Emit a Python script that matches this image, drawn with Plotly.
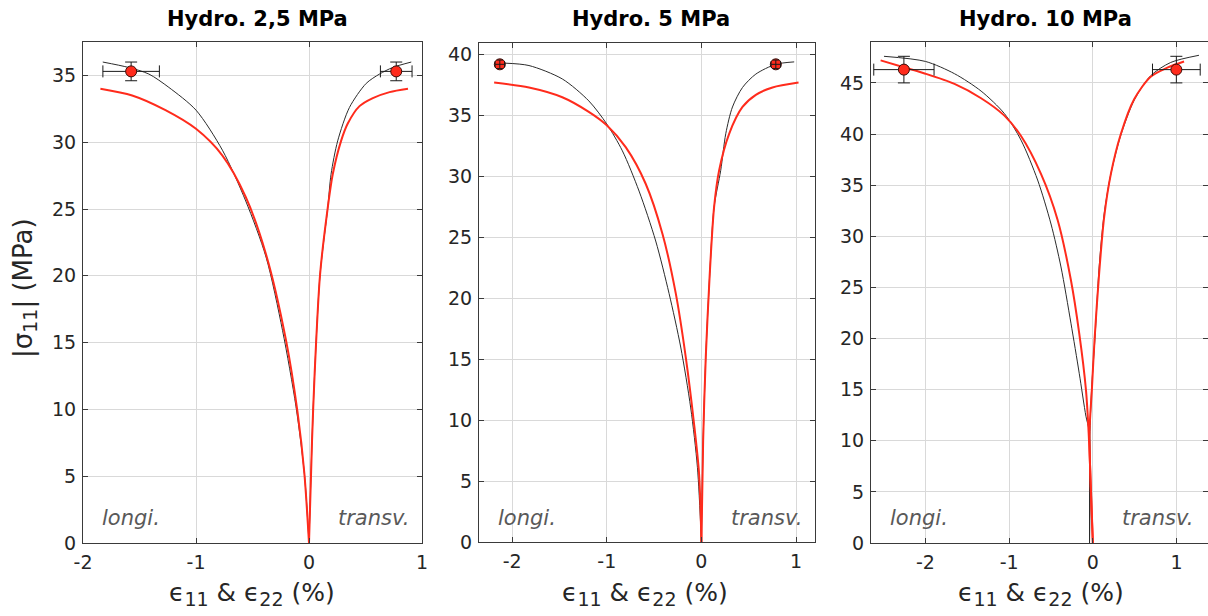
import plotly.graph_objects as go

W, H = 1208, 616

# ---------------- data ----------------
titles = ["Hydro. 2,5 MPa", "Hydro. 5 MPa", "Hydro. 10 MPa"]
x_tick_vals = [-2, -1, 0, 1]
x_tick_text = ["-2", "-1", "0", "1"]

# Panel 1 : Hydro 2,5 MPa   (None separates longitudinal and transverse branches)
p1_black_x = [-1.825, -1.6, -1.417, -1.24, -1.0, -0.766, -0.56, -0.38, -0.234, -0.115, -0.041, 0.0, None,
              0.0, 0.027, 0.05, 0.098, 0.166, 0.195, 0.254, 0.358, 0.506, 0.624, 0.743, 0.905]
p1_black_y = [36.0, 35.6, 35.1, 34.1, 32.4, 29.4, 25.6, 21.4, 15.9, 10.2, 5.2, 0.0, None,
              0.0, 7.7, 12.7, 20.1, 25.1, 27.6, 30.1, 32.6, 34.4, 35.1, 35.6, 36.0]
p1_red_x = [-1.846, -1.565, -1.27, -1.0, -0.766, -0.56, -0.38, -0.204, -0.1, -0.041, 0.0, None,
            0.0, 0.027, 0.05, 0.098, 0.166, 0.21, 0.284, 0.343, 0.447, 0.565, 0.713, 0.876]
p1_red_y = [34.0, 33.5, 32.4, 31.0, 29.0, 25.9, 21.6, 15.2, 9.7, 5.2, 0.0, None,
            0.0, 7.7, 12.7, 20.1, 25.1, 27.6, 30.1, 31.4, 32.7, 33.3, 33.75, 34.0]
p1_exp_x = [-1.574, 0.772]
p1_exp_y = [35.3, 35.3]
p1_exp_xerr = [0.25, 0.14]
p1_exp_yerr = [0.7, 0.7]

# Panel 2 : Hydro 5 MPa
p2_black_x = [-2.087, -1.822, -1.47, -1.19, -1.0, -0.835, -0.659, -0.483, -0.342, -0.219, -0.113, -0.042, 0.0, None,
              0.0, 0.018, 0.046, 0.088, 0.134, 0.204, 0.257, 0.328, 0.434, 0.575, 0.786, 0.98]
p2_black_y = [39.3, 39.1, 38.0, 36.2, 34.3, 32.1, 28.8, 24.7, 20.4, 16.0, 11.0, 6.1, 0.0, None,
              0.0, 8.3, 15.2, 22.0, 27.5, 30.5, 33.5, 35.7, 37.3, 38.4, 39.2, 39.4]
p2_red_x = [-2.19, -1.822, -1.47, -1.19, -1.0, -0.80, -0.589, -0.412, -0.271, -0.166, -0.078, -0.025, 0.0, None,
            0.0, 0.018, 0.046, 0.088, 0.134, 0.187, 0.293, 0.434, 0.575, 0.751, 1.026]
p2_red_y = [37.7, 37.3, 36.5, 35.3, 34.2, 32.4, 29.4, 25.3, 20.4, 15.2, 9.7, 5.6, 0.0, None,
            0.0, 8.3, 15.2, 22.0, 27.5, 30.5, 33.5, 35.7, 36.7, 37.3, 37.7]
p2_exp_x = [-2.13, 0.786]
p2_exp_y = [39.2, 39.2]
p2_exp_xerr = [0.05, 0.05]
p2_exp_yerr = [0.35, 0.35]

# Panel 3 : Hydro 10 MPa
p3_black_x = [-2.495, -2.0, -1.653, -1.335, -1.057, -0.858, -0.66, -0.5, -0.381, -0.262, -0.163, -0.083, -0.044, -0.04, None,
              -0.04, -0.035, -0.012, 0.024, 0.075, 0.135, 0.215, 0.334, 0.493, 0.69, 0.93, 1.267]
p3_black_y = [47.6, 47.1, 45.9, 44.2, 42.0, 39.4, 35.5, 31.2, 27.0, 21.5, 16.6, 12.4, 10.9, 0.0, None,
              0.0, 10.9, 15.5, 19.9, 27.0, 32.2, 36.1, 39.9, 43.3, 45.7, 47.0, 47.7]
p3_red_x = [-2.535, -2.249, -2.0, -1.653, -1.335, -1.057, -0.858, -0.62, -0.421, -0.262, -0.163, -0.083, -0.05, 0.0, None,
            0.0, -0.04, -0.012, 0.02, 0.075, 0.135, 0.215, 0.334, 0.493, 0.69, 0.89, 1.089]
p3_red_y = [47.2, 46.5, 45.9, 44.9, 43.5, 41.8, 39.8, 36.1, 31.6, 25.7, 20.5, 15.0, 10.7, 0.0, None,
            0.0, 10.7, 15.0, 19.9, 26.4, 31.9, 36.1, 40.0, 43.4, 45.6, 46.5, 47.1]
p3_exp_x = [-2.257, 0.997]
p3_exp_y = [46.3, 46.3]
p3_exp_xerr = [0.36, 0.285]
p3_exp_yerr = [1.3, 1.3]

# ---------------- styling / layout ----------------
RED = "#ff2b1c"
BLACK_LINE = "#2b2b2b"
AXC = "#262626"
GRID = "#d9d9d9"


def px(x):
    return min(x / W, 1.0)


def py(y):
    return 1 - y / H


# pixel boxes of the three axes (left, right, top, bottom)
boxes = [(83, 422, 42, 543), (479, 815, 43, 542), (871, 1208, 42, 543)]
xranges = [[-2, 1], [-2.35, 1.2], [-2.65, 1.375]]
yranges = [[0, 37.5], [0, 40.95], [0, 49]]
ytops = [35, 40, 45]
title_px = [257, 651, 1045]
xlabel_px = [252, 645, 1041]
text_right_px = [411, 804, 1195]

panels = [
    (p1_black_x, p1_black_y, p1_red_x, p1_red_y, p1_exp_x, p1_exp_y, p1_exp_xerr, p1_exp_yerr),
    (p2_black_x, p2_black_y, p2_red_x, p2_red_y, p2_exp_x, p2_exp_y, p2_exp_xerr, p2_exp_yerr),
    (p3_black_x, p3_black_y, p3_red_x, p3_red_y, p3_exp_x, p3_exp_y, p3_exp_xerr, p3_exp_yerr),
]

fig = go.Figure()
annotations = []
layout_axes = {}

for i, (bx, by, rx, ry, ex, ey, exe, eye) in enumerate(panels):
    n = "" if i == 0 else str(i + 1)
    xa, ya = "x" + n, "y" + n
    fig.add_trace(go.Scatter(x=bx, y=by, mode="lines", xaxis=xa, yaxis=ya, connectgaps=False,
                             line=dict(color=BLACK_LINE, width=1, shape="spline", smoothing=0.8),
                             hoverinfo="skip"))
    fig.add_trace(go.Scatter(x=rx, y=ry, mode="lines", xaxis=xa, yaxis=ya, connectgaps=False,
                             line=dict(color=RED, width=2, shape="spline", smoothing=0.8),
                             hoverinfo="skip"))
    cap = 3 if i == 1 else 6
    if i == 1:
        # markers first, error cross drawn over them
        fig.add_trace(go.Scatter(x=ex, y=ey, mode="markers", xaxis=xa, yaxis=ya,
                                 marker=dict(size=11, color=RED,
                                             line=dict(color="#3a0a05", width=1))))
        fig.add_trace(go.Scatter(x=ex, y=ey, mode="markers", xaxis=xa, yaxis=ya,
                                 marker=dict(size=1, color="rgba(0,0,0,0)"),
                                 error_x=dict(type="data", array=exe, color="#1a1a1a",
                                              thickness=1, width=cap),
                                 error_y=dict(type="data", array=eye, color="#1a1a1a",
                                              thickness=1, width=cap)))
    else:
        fig.add_trace(go.Scatter(x=ex, y=ey, mode="markers", xaxis=xa, yaxis=ya,
                                 marker=dict(size=11, color=RED,
                                             line=dict(color="#3a0a05", width=1)),
                                 error_x=dict(type="data", array=exe, color="#1a1a1a",
                                              thickness=1, width=cap),
                                 error_y=dict(type="data", array=eye, color="#1a1a1a",
                                              thickness=1, width=cap)))

    l, r, t, b = boxes[i]
    common = dict(showline=True, linecolor="#3a3a3a", linewidth=1, mirror="ticks",
                  ticks="inside", ticklen=5, tickcolor="#3a3a3a",
                  showgrid=True, gridcolor=GRID, gridwidth=1, zeroline=False,
                  automargin=False,
                  tickfont=dict(family="DejaVu Sans", size=19, color=AXC))
    layout_axes["xaxis" + n] = dict(domain=[px(l), px(r)], range=xranges[i],
                                    anchor=ya, tickvals=x_tick_vals, ticktext=x_tick_text,
                                    ticklabelstandoff=2, **common)
    yt = list(range(0, ytops[i] + 1, 5))
    layout_axes["yaxis" + n] = dict(domain=[py(b), py(t)], range=yranges[i],
                                    anchor=xa, tickvals=yt, ticktext=[str(v) for v in yt],
                                    ticklabelstandoff=2, **common)

    annotations.append(dict(text="<b>" + titles[i] + "</b>", x=px(title_px[i]), y=py(19),
                            xref="paper", yref="paper", showarrow=False,
                            xanchor="center", yanchor="middle",
                            font=dict(family="DejaVu Sans", size=21, color="#000000")))
    annotations.append(dict(text="ϵ<sub><span style='font-size:19px'>11</span></sub> &amp; "
                                 "ϵ<sub><span style='font-size:19px'>22</span></sub> (%)",
                            x=px(xlabel_px[i]), y=py(594),
                            xref="paper", yref="paper", showarrow=False,
                            xanchor="center", yanchor="middle",
                            font=dict(family="DejaVu Sans", size=25, color=AXC)))
    annotations.append(dict(text="<i>longi.</i>", x=px(l + 17), y=py(518),
                            xref="paper", yref="paper", showarrow=False,
                            xanchor="left", yanchor="middle",
                            font=dict(family="DejaVu Sans", size=21, color="#595959")))
    annotations.append(dict(text="<i>transv.</i>", x=px(text_right_px[i]), y=py(518),
                            xref="paper", yref="paper", showarrow=False,
                            xanchor="right", yanchor="middle",
                            font=dict(family="DejaVu Sans", size=21, color="#595959")))

annotations.append(dict(text="|σ<sub><span style='font-size:19px'>11</span></sub>| (MPa)",
                        x=px(25), y=py(288),
                        xref="paper", yref="paper", showarrow=False, textangle=-90,
                        xanchor="center", yanchor="middle",
                        font=dict(family="DejaVu Sans", size=26, color=AXC)))

fig.update_layout(width=W, height=H, margin=dict(l=0, r=0, t=0, b=0, autoexpand=False),
                  paper_bgcolor="white", plot_bgcolor="white", showlegend=False,
                  annotations=annotations, **layout_axes)

fig.write_html("out.html", config={"displayModeBar": False},
               post_script="document.body.style.margin='0';document.body.style.overflow='hidden';")
